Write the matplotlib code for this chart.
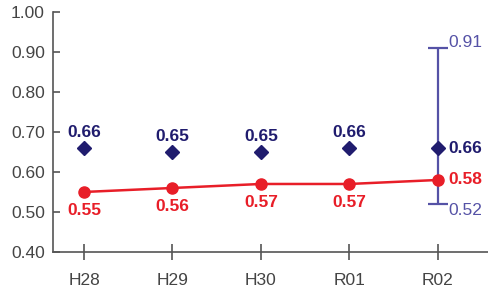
import numpy as np
import matplotlib.pyplot as plt

plt.rcParams['font.family'] = ['Liberation Sans', 'DejaVu Sans']

# データ
years = ['H28', 'H29', 'H30', 'R01', 'R02']
blue_vals = [0.66, 0.65, 0.65, 0.66, 0.66]
red_vals = [0.55, 0.56, 0.57, 0.57, 0.58]
err_low = 0.52
err_high = 0.91

navy = '#201c6e'
red = '#e81e28'
violet = '#5552a6'
gray = '#555555'
fs = 12.5

fig = plt.figure(figsize=(4.88, 2.95), dpi=100)
ax = fig.add_axes([0.109, 0.146, 0.891, 0.813])

x = np.arange(len(years))

# R02 のエラーバー
ax.errorbar(x[-1], blue_vals[-1], yerr=[[blue_vals[-1] - err_low], [err_high - blue_vals[-1]]],
            fmt='none', ecolor=violet, elinewidth=1.6, capsize=7, capthick=1.6, zorder=2)

ax.plot(x, red_vals, color=red, lw=1.8, marker='o', ms=8, zorder=3)
ax.plot(x, blue_vals, ls='none', marker='D', ms=7.5, color=navy, zorder=4)

# ラベル
for i in range(len(years) - 1):
    ax.annotate(f'{blue_vals[i]:.2f}', (x[i], blue_vals[i]), xytext=(0, 11.5),
                textcoords='offset points', ha='center', va='center',
                color=navy, fontsize=fs, fontweight='bold')
    ax.annotate(f'{red_vals[i]:.2f}', (x[i], red_vals[i]), xytext=(0, -13),
                textcoords='offset points', ha='center', va='center',
                color=red, fontsize=fs, fontweight='bold')

ax.annotate(f'{blue_vals[-1]:.2f}', (x[-1], blue_vals[-1]), xytext=(8, 0),
            textcoords='offset points', ha='left', va='center',
            color=navy, fontsize=fs, fontweight='bold')
ax.annotate(f'{red_vals[-1]:.2f}', (x[-1], red_vals[-1]), xytext=(8, 0),
            textcoords='offset points', ha='left', va='center',
            color=red, fontsize=fs, fontweight='bold')
ax.annotate(f'{err_high:.2f}', (x[-1], err_high), xytext=(8, 4),
            textcoords='offset points', ha='left', va='center',
            color=violet, fontsize=fs)
ax.annotate(f'{err_low:.2f}', (x[-1], err_low), xytext=(8, -5),
            textcoords='offset points', ha='left', va='center',
            color=violet, fontsize=fs)

ax.set_xlim(-0.35, 4.57)
ax.set_ylim(0.40, 1.00)
ax.set_yticks(np.arange(0.40, 1.001, 0.10))
ax.set_yticklabels([f'{v:.2f}' for v in np.arange(0.40, 1.001, 0.10)])
ax.set_xticks(x)
ax.set_xticklabels(years)

for s in ['top', 'right']:
    ax.spines[s].set_visible(False)
for s in ['left', 'bottom']:
    ax.spines[s].set_color(gray)
    ax.spines[s].set_linewidth(1.2)

ax.tick_params(axis='y', direction='in', length=5, width=1.2, color=gray,
               labelcolor='#444444', labelsize=fs, pad=6)
ax.tick_params(axis='x', direction='inout', length=11, width=1.2, color=gray,
               labelcolor='#444444', labelsize=fs, pad=10)

fig.savefig('out.png', dpi=100)
